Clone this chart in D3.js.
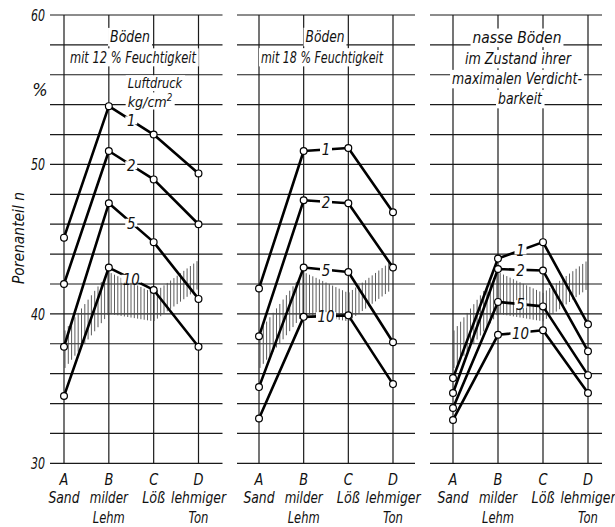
<!DOCTYPE html>
<html><head><meta charset="utf-8">
<script src="https://cdn.jsdelivr.net/npm/d3@7"></script>
<style>
html,body{margin:0;padding:0;background:#fff;}
text{font-family:"DejaVu Sans Condensed","Liberation Sans Narrow",sans-serif;font-style:italic;fill:#111;}
</style></head>
<body>
<svg id="chart" width="615" height="527"></svg>
<script>
// ---------- data ----------
const categories = ["A", "B", "C", "D"];
const categoryNames = [["Sand"], ["milder", "Lehm"], ["Löß"], ["lehmiger", "Ton"]];
const pressureLabels = ["1", "2", "5", "10"];
const yTicks = [30, 40, 50, 60];

// Porenanteil n (%) per pressure line (1, 2, 5, 10 kg/cm²) at A, B, C, D
const panel1Values = [
  [45.1, 53.9, 52.0, 49.4],
  [42.0, 50.9, 49.0, 46.0],
  [37.8, 47.4, 44.8, 41.0],
  [34.5, 43.1, 41.6, 37.8]
];
const panel2Values = [
  [41.7, 50.9, 51.1, 46.8],
  [38.5, 47.6, 47.4, 43.1],
  [35.1, 43.1, 42.8, 38.1],
  [33.0, 39.8, 39.9, 35.3]
];
const panel3Values = [
  [35.7, 43.7, 44.8, 39.3],
  [34.7, 43.0, 42.9, 37.5],
  [33.7, 40.8, 40.5, 35.9],
  [32.9, 38.6, 38.9, 34.7]
];
// hatched band (upper / lower edge) at A, B, C, D
const bandUpper = [38.8, 42.8, 41.4, 43.6];
const bandLower = [36.3, 40.0, 39.5, 41.7];

const panel1Title = ["Böden", "mit 12 % Feuchtigkeit"];
const panel2Title = ["Böden", "mit 18 % Feuchtigkeit"];
const panel3Title = ["nasse Böden", "im Zustand ihrer", "maximalen Verdicht-", "barkeit"];

// ---------- layout ----------
const svg = d3.select("#chart");
const y = d3.scaleLinear().domain([30, 60]).range([463.3, 15]);
const panels = [
  {values: panel1Values, title: panel1Title, x0: 64, x1: 198.5, gl: 14, gr: 24,
   titleX: [130, 133], titleY: [42, 63], titleW: [40, 127]},
  {values: panel2Values, title: panel2Title, x0: 259, x1: 393, gl: 22, gr: 22,
   titleX: [325, 322], titleY: [42, 63], titleW: [39, 123]},
  {values: panel3Values, title: panel3Title, x0: 453, x1: 588, gl: 23, gr: 14,
   titleX: [517, 518, 517, 520], titleY: [43, 64, 84, 104], titleW: [89, 107, 130, 45]}
];
const nameW = {"Sand": 32, "milder": 39, "Lehm": 32, "Löß": 23, "lehmiger": 56, "Ton": 20};
const gridVals = d3.range(30, 60.01, 2);

// text helper: italic text, optionally squeezed to a given width, optional white mask
function addText(parent, x, yy, str, opt) {
  opt = opt || {};
  const w = parent.append("g");
  const t = w.append("text").attr("x", 0).attr("y", 0)
    .attr("text-anchor", opt.anchor || "middle")
    .attr("font-size", opt.size || 16);
  if (typeof str === "function") str(t); else t.text(str);
  let sx = opt.sx || 0.9;
  if (opt.w) sx = opt.w / t.node().getBBox().width;
  w.attr("transform", `translate(${x},${yy}) scale(${sx},1)`);
  if (opt.mask) {
    const b = t.node().getBBox();
    w.insert("rect", "text").attr("x", b.x - 2 / sx).attr("y", b.y + 1)
      .attr("width", b.width + 4 / sx).attr("height", b.height - 1).attr("fill", "#fff");
  }
  return w;
}

panels.forEach((p, pi) => {
  const x = d3.scalePoint().domain(categories).range([p.x0, p.x1]);
  const g = svg.append("g");
  const grid = g.append("g").attr("stroke", "#1a1a1a").attr("stroke-width", 1.2);
  grid.selectAll("line.h").data(gridVals).join("line")
    .attr("x1", p.x0 - p.gl).attr("x2", p.x1 + p.gr)
    .attr("y1", d => y(d)).attr("y2", d => y(d));
  grid.selectAll("line.v").data(categories).join("line")
    .attr("x1", d => x(d)).attr("x2", d => x(d))
    .attr("y1", y(60)).attr("y2", y(30));

  // title
  const tg = g.append("g");
  p.title.forEach((s, i) => addText(tg, p.titleX[i], p.titleY[i], s, {mask: true, size: 16.5, w: p.titleW[i]}));

  if (pi === 0) {
    addText(tg, 155, 88, "Luftdruck", {mask: true, size: 14.5, w: 55});
    addText(tg, 150, 106.5, t => {
      t.append("tspan").text("kg/cm");
      t.append("tspan").attr("dy", -6).attr("font-size", 10).text("2");
    }, {mask: true, size: 14.5, w: 45});
  }

  // hatched band
  const hg = g.append("g").attr("stroke", "#4a4a4a").attr("stroke-width", 0.9);
  const bandTop = d3.scaleLinear().domain(categories.map(c => x(c))).range(bandUpper.map(v => y(v)));
  const bandBot = d3.scaleLinear().domain(categories.map(c => x(c))).range(bandLower.map(v => y(v)));
  const hx = d3.range(p.x0 + 1, p.x1 - 1, 3.3);
  hg.selectAll("line").data(hx).join("line")
    .attr("x1", d => d).attr("x2", d => d)
    .attr("y1", d => bandTop(d)).attr("y2", d => bandBot(d));

  // data lines
  const line = d3.line().x((d, i) => x(categories[i])).y(d => y(d));
  g.append("g").selectAll("path").data(p.values).join("path")
    .attr("d", line).attr("fill", "none").attr("stroke", "#000")
    .attr("stroke-width", 2.6).attr("stroke-linejoin", "round");

  // pressure labels on B–C segment
  const lbl = g.append("g");
  p.values.forEach((vals, si) => {
    const cx = (x("B") + x("C")) / 2;
    const cy = (y(vals[1]) + y(vals[2])) / 2;
    lbl.append("rect").attr("x", cx - (si === 3 ? 10 : 6)).attr("y", cy - 4)
      .attr("width", si === 3 ? 20 : 12).attr("height", 8).attr("fill", "#fff");
    addText(lbl, cx, cy + 6, pressureLabels[si], {size: 16.5, sx: 0.9});
  });

  // circles
  const pts = [];
  p.values.forEach(vals => vals.forEach((v, i) => pts.push({c: categories[i], v})));
  g.append("g").selectAll("circle").data(pts).join("circle")
    .attr("cx", d => x(d.c)).attr("cy", d => y(d.v)).attr("r", 3.4)
    .attr("fill", "#fff").attr("stroke", "#000").attr("stroke-width", 1.2);

  // category labels
  const cg = g.append("g");
  categories.forEach((c, i) => {
    addText(cg, x(c), 485, c, {size: 16, sx: 0.9});
    categoryNames[i].forEach((nm, j) => {
      addText(cg, x(c), 503 + j * 20, nm, {size: 16, w: nameW[nm]});
    });
  });
});

// y tick labels
const yg = svg.append("g");
yTicks.forEach(v => addText(yg, 45, y(v) + 6, String(v), {anchor: "end", size: 15, w: 14}));
addText(yg, 40, 96, "%", {size: 18, sx: 1});
svg.append("text").attr("transform", "translate(24,238) rotate(-90)")
  .attr("text-anchor", "middle").attr("font-size", 15.5)
  .attr("textLength", 92).attr("lengthAdjust", "spacingAndGlyphs").text("Porenanteil n");
</script>
</body></html>
